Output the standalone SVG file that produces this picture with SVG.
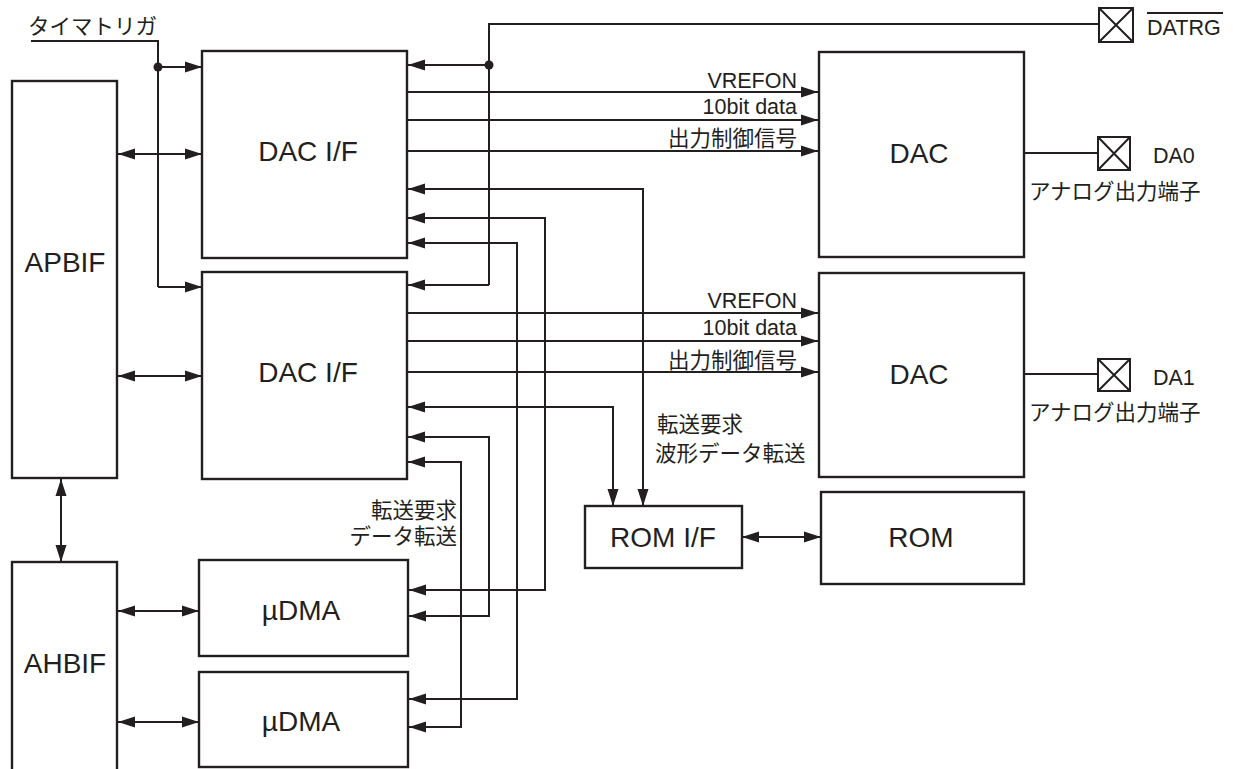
<svg xmlns="http://www.w3.org/2000/svg" width="1233" height="769" viewBox="0 0 1233 769">
<defs>
<marker id="ah" markerUnits="userSpaceOnUse" markerWidth="17" markerHeight="12" viewBox="0 0 17 12" refX="17" refY="6" orient="auto-start-reverse">
<path d="M0,0.5 L17,6 L0,11.5 z" fill="#231f20"/>
</marker>
</defs>
<style>
.box{fill:#fff;stroke:#231f20;stroke-width:2.4}
.ln{fill:none;stroke:#231f20;stroke-width:2}
.a1{marker-end:url(#ah)}
.a2{marker-start:url(#ah);marker-end:url(#ah)}
.big{font-family:"Liberation Sans","Noto Sans CJK JP",sans-serif;font-size:28px;fill:#231f20;text-anchor:middle}
.sm{font-family:"Liberation Sans","Noto Sans CJK JP",sans-serif;font-size:21.5px;fill:#231f20}
.r{text-anchor:end}
.pin{fill:#fff;stroke:#231f20;stroke-width:2}
</style>
<rect width="1233" height="769" fill="#fff"/>

<g id="connectors">
<!-- timer trigger -->
<path class="ln" d="M31,41 H158 V287"/>
<path class="ln a1" d="M158,67 H202"/>
<path class="ln a1" d="M158,287 H202"/>
<circle cx="158" cy="67" r="4.5" fill="#231f20"/>
<!-- DATRG -->
<path class="ln" d="M1099,24 H489 V285"/>
<path class="ln a1" d="M489,65 H408"/>
<path class="ln a1" d="M489,285 H408"/>
<circle cx="489" cy="65" r="4.5" fill="#231f20"/>
<!-- APBIF / AHBIF -->
<path class="ln a2" d="M118,154 H202"/>
<path class="ln a2" d="M118,376 H202"/>
<path class="ln a2" d="M61,479 V562"/>
<path class="ln a2" d="M118,611 H199"/>
<path class="ln a2" d="M118,722 H199"/>
<!-- DAC I/F to DAC -->
<path class="ln a1" d="M407,92 H818"/>
<path class="ln a1" d="M407,120 H818"/>
<path class="ln a1" d="M407,151 H818"/>
<path class="ln a1" d="M407,313 H818"/>
<path class="ln a1" d="M407,341 H818"/>
<path class="ln a1" d="M407,372 H818"/>
<!-- DAC I/F 1 returns -->
<path class="ln a2" d="M408,189 H643 V506"/>
<path class="ln a2" d="M408,218 H545 V590 H409"/>
<path class="ln a2" d="M408,243 H517 V699 H409"/>
<!-- DAC I/F 2 returns -->
<path class="ln a2" d="M408,407 H613 V506"/>
<path class="ln a2" d="M408,437 H489 V616 H409"/>
<path class="ln a2" d="M408,462 H461 V727 H409"/>
<!-- ROM I/F to ROM -->
<path class="ln a2" d="M742,537 H821"/>
<!-- DAC outputs -->
<path class="ln" d="M1024,153 H1098"/>
<path class="ln" d="M1024,374 H1098"/>
</g>

<g id="apbif"><rect class="box" x="12" y="81" width="105" height="397"/><text class="big" x="65" y="272">APBIF</text></g>
<g id="ahbif"><rect class="box" x="12" y="562" width="105" height="220"/><text class="big" x="65" y="673">AHBIF</text></g>
<g id="dacif1"><rect class="box" x="202" y="51" width="205" height="207"/><text class="big" x="308" y="161">DAC I/F</text></g>
<g id="dacif2"><rect class="box" x="202" y="272" width="205" height="207"/><text class="big" x="308" y="382">DAC I/F</text></g>
<g id="udma1"><rect class="box" x="199" y="560" width="209" height="96"/><text class="big" x="301" y="620">µDMA</text></g>
<g id="udma2"><rect class="box" x="199" y="672" width="209" height="95"/><text class="big" x="301" y="731">µDMA</text></g>
<g id="dac1"><rect class="box" x="819" y="52" width="205" height="205"/><text class="big" x="919" y="163">DAC</text></g>
<g id="dac2"><rect class="box" x="819" y="273" width="205" height="204"/><text class="big" x="919" y="384">DAC</text></g>
<g id="romif"><rect class="box" x="585" y="506" width="157" height="62"/><text class="big" x="663" y="547">ROM I/F</text></g>
<g id="rom"><rect class="box" x="821" y="492" width="203" height="92"/><text class="big" x="921" y="547">ROM</text></g>

<g id="pin-datrg">
<rect class="pin" x="1099" y="8" width="34" height="34"/>
<path class="ln" d="M1099,8 L1133,42 M1133,8 L1099,42"/>
<text class="sm" x="1147" y="35">DATRG</text>
<path class="ln" d="M1147,13 H1223"/>
</g>
<g id="pin-da0">
<rect class="pin" x="1098" y="137" width="32" height="33"/>
<path class="ln" d="M1098,137 L1130,170 M1130,137 L1098,170"/>
<text class="sm" x="1153" y="163">DA0</text>
<text class="sm" x="1029" y="199">アナログ出力端子</text>
</g>
<g id="pin-da1">
<rect class="pin" x="1098" y="359" width="32" height="32"/>
<path class="ln" d="M1098,359 L1130,391 M1130,359 L1098,391"/>
<text class="sm" x="1153" y="385">DA1</text>
<text class="sm" x="1029" y="420">アナログ出力端子</text>
</g>

<g id="labels">
<text class="sm" x="28" y="34">タイマトリガ</text>
<text class="sm r" x="797" y="88">VREFON</text>
<text class="sm r" x="797" y="114">10bit data</text>
<text class="sm r" x="797" y="146">出力制御信号</text>
<text class="sm r" x="797" y="308">VREFON</text>
<text class="sm r" x="797" y="335">10bit data</text>
<text class="sm r" x="797" y="368">出力制御信号</text>
<text class="sm" x="657" y="432">転送要求</text>
<text class="sm" x="655" y="461">波形データ転送</text>
<text class="sm r" x="457" y="518">転送要求</text>
<text class="sm r" x="457" y="544">データ転送</text>
</g>
</svg>
